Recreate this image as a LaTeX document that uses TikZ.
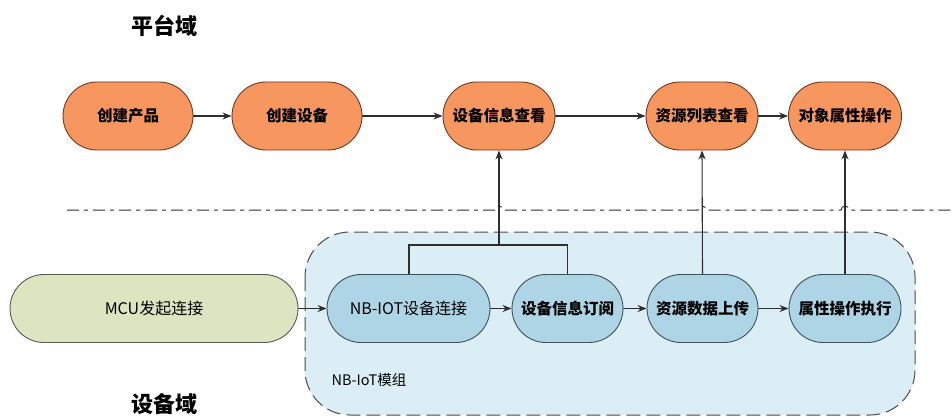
\documentclass[tikz,border=0pt]{standalone}
\usepackage{fontspec}
\setmainfont{Noto Sans CJK SC}
\usetikzlibrary{arrows.meta}
\definecolor{orangefill}{HTML}{F8965F}
\definecolor{orangeline}{HTML}{6B3B24}
\definecolor{greenfill}{HTML}{DDE4C0}
\definecolor{bluefill}{HTML}{ADD5E5}
\definecolor{blueline}{HTML}{3E525C}
\definecolor{boxfill}{HTML}{DCEEF5}
\definecolor{lineclr}{HTML}{2E2E2E}
\begin{document}
\begin{tikzpicture}[x=1pt,y=-1pt,
  pill/.style={draw, line width=0.9pt, rounded corners=34pt, minimum height=68pt, inner sep=0pt, font=\fontsize{15.5}{17}\selectfont\bfseries},
  topnode/.style={pill, fill=orangefill, draw=orangeline},
  botnode/.style={pill, fill=bluefill, draw=blueline},
  conn/.style={draw=lineclr, line width=1.1pt, -{Stealth[length=9pt,width=7pt]}},
  plainconn/.style={draw=lineclr, line width=1.1pt}
]
\useasboundingbox (0,0) rectangle (952,417);
% container
\draw[fill=boxfill, draw=black!70, line width=1pt, dash pattern=on 14pt off 6pt, rounded corners=45pt] (305,232) rectangle (915,415);
\node[font=\fontsize{14.5}{16}\selectfont, anchor=west] (modlabel) at (328,380) {NB-IoT模组};
% domain labels
\node[font=\fontsize{22}{24}\selectfont\bfseries] (platform) at (164,26) {平台域};
\node[font=\fontsize{22}{24}\selectfont\bfseries] (devdomain) at (164,404) {设备域};
% top row
\node[topnode, minimum width=130pt] (cp) at (128,116) {创建产品};
\node[topnode, minimum width=130pt] (cd) at (297,116) {创建设备};
\node[topnode, minimum width=112pt] (view) at (499,116) {设备信息查看};
\node[topnode, minimum width=112pt] (res) at (702,116) {资源列表查看};
\node[topnode, minimum width=113pt] (obj) at (845,116) {对象属性操作};
% bottom row
\node[pill, fill=greenfill, draw=black!65, minimum width=288pt, font=\fontsize{16}{17}\selectfont] (mcu) at (154,308.5) {MCU发起连接};
\node[botnode, minimum width=163pt, font=\fontsize{16}{17}\selectfont] (nb) at (408.5,308.5) {NB-IOT设备连接};
\node[botnode, minimum width=111pt] (sub) at (567.5,308.5) {设备信息订阅};
\node[botnode, minimum width=111pt] (up) at (702.5,308.5) {资源数据上传};
\node[botnode, minimum width=112pt] (exe) at (845,308.5) {属性操作执行};
% divider (dash-dot) with hops
\draw[draw=lineclr, line width=1pt, dash pattern=on 12pt off 5pt on 4pt off 5pt]
  (67,210) -- (495,210) arc[start angle=180, end angle=0, radius=4pt] -- (698,210) arc[start angle=180, end angle=0, radius=4pt] -- (841,210) arc[start angle=180, end angle=0, radius=4pt] -- (952,210);
% top arrows
\draw[conn] (cp) -- (cd);
\draw[conn] (cd) -- (view);
\draw[conn] (view) -- (res);
\draw[conn] (res) -- (obj);
% bottom arrows
\draw[conn] (mcu) -- (nb);
\draw[conn] (nb) -- (sub);
\draw[conn] (sub) -- (up);
\draw[conn] (up) -- (exe);
% vertical links
\coordinate (junc) at (499,245);
\draw[plainconn] (nb.north) ++(0.5,0) |- (junc);
\draw[plainconn] (sub.north) |- (junc);
\draw[conn] (junc) -- (view.south);
\draw[conn] (up.north) -- (res.south);
\draw[conn] (exe.north) -- (obj.south);
\end{tikzpicture}
\end{document}
